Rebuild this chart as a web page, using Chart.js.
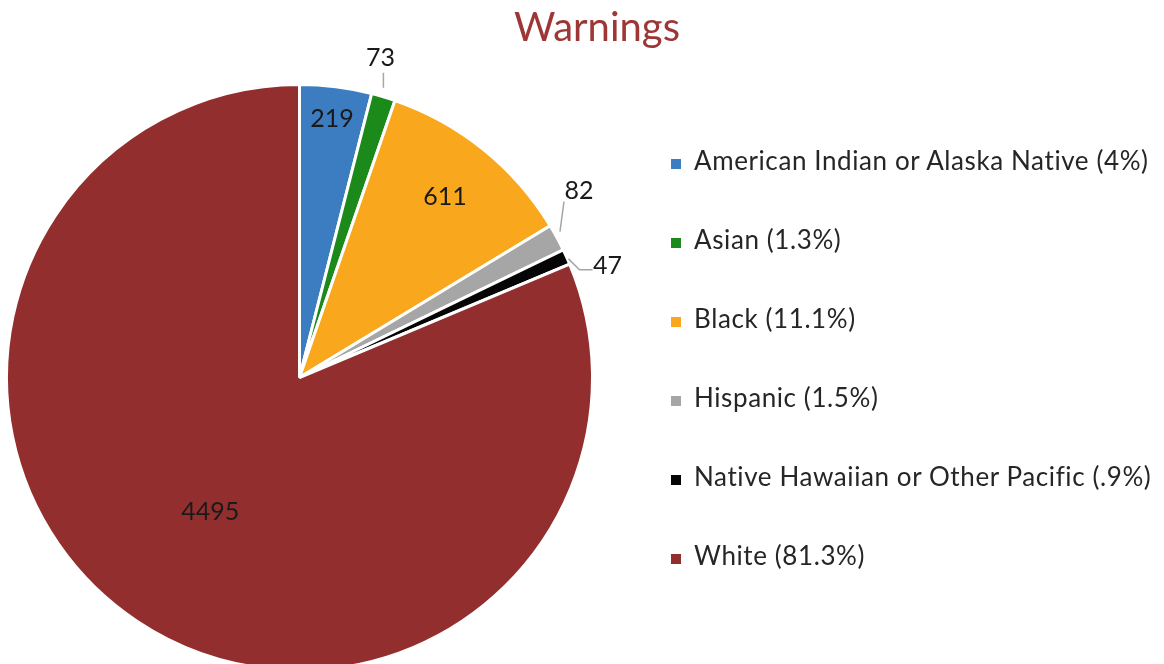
<!DOCTYPE html>
<html>
<head>
<meta charset="utf-8">
<script src="https://cdn.jsdelivr.net/npm/chart.js@4/dist/chart.umd.min.js"></script>
<style>
  html, body { margin: 0; padding: 0; background: #fff; }
  #wrap { position: relative; width: 1164px; height: 664px; overflow: hidden; font-family: Lato, "Open Sans", sans-serif; }
  #pieCanvas { position: absolute; left: 0; top: 0; }
  #title { position: absolute; left: 0; width: 1194px; top: 2px; text-align: center; font-size: 40px; color: #9e3636; }
  #legend { position: absolute; left: 671px; top: 0; }
  .item { position: absolute; white-space: nowrap; font-size: 26px; letter-spacing: 0.6px; color: #262626; height: 30px; line-height: 30px; }
  .item span.box { display: inline-block; width: 10px; height: 10px; margin-right: 13px; vertical-align: 1px; }
</style>
</head>
<body>
<div id="wrap">
  <canvas id="pieCanvas" width="1164" height="700"></canvas>
  <div id="title">Warnings</div>
  <div id="legend"></div>
</div>
<script>
// data
const categories = ['American Indian or Alaska Native', 'Asian', 'Black', 'Hispanic', 'Native Hawaiian or Other Pacific', 'White'];
const legendPct = ['4%', '1.3%', '11.1%', '1.5%', '.9%', '81.3%'];
const warnings = [219, 73, 611, 82, 47, 4495];
const colors = ['#3c7dc2', '#1b8a1b', '#f9a71c', '#a6a6a6', '#050505', '#932e2e'];

// legend (html)
const legendEl = document.getElementById('legend');
categories.forEach((c, i) => {
    const div = document.createElement('div');
    div.className = 'item';
    div.style.top = (145 + i * 79) + 'px';
    div.innerHTML = `<span class="box" style="background:${colors[i]}"></span>${c} (${legendPct[i]})`;
    legendEl.appendChild(div);
});

// where each value label goes: inside at a fraction of radius, or outside with leader line
const labelPlacement = [
    { inside: 0.89 },
    { text: [-3, -39], line: [[0, -9], [0, -24]] },
    { inside: 0.79 },
    { text: [22, -47], line: [[3, -6], [7, -36]] },
    { text: [41, 9], line: [[2, 2], [13, 13], [26, 13]] },
    { inside: 0.55 }
];

const labelPlugin = {
    id: 'valueLabels',
    afterDatasetsDraw(chart) {
        const ctx = chart.ctx;
        const arcs = chart.getDatasetMeta(0).data;
        ctx.save();
        ctx.font = '25px Lato';
        ctx.textAlign = 'center';
        ctx.textBaseline = 'middle';
        arcs.forEach((arc, i) => {
            const p = labelPlacement[i];
            const mid = (arc.startAngle + arc.endAngle) / 2;
            const cos = Math.cos(mid), sin = Math.sin(mid);
            ctx.fillStyle = '#1a1a1a';
            if (p.inside) {
                const r = arc.outerRadius * p.inside;
                ctx.fillText(warnings[i], arc.x + cos * r, arc.y + sin * r);
            } else {
                const ex = arc.x + cos * arc.outerRadius;
                const ey = arc.y + sin * arc.outerRadius;
                ctx.strokeStyle = '#a6a6a6';
                ctx.lineWidth = 1.5;
                ctx.beginPath();
                p.line.forEach((pt, k) => {
                    if (k === 0) ctx.moveTo(ex + pt[0], ey + pt[1]);
                    else ctx.lineTo(ex + pt[0], ey + pt[1]);
                });
                ctx.stroke();
                ctx.fillText(warnings[i], ex + p.text[0], ey + p.text[1]);
            }
        });
        ctx.restore();
    }
};

const ctx = document.getElementById('pieCanvas').getContext('2d');
const pieChart = new Chart(ctx, {
    type: 'pie',
    data: {
        labels: categories,
        datasets: [{
            data: warnings,
            backgroundColor: colors,
            borderColor: '#ffffff',
            borderWidth: 3
        }]
    },
    options: {
        responsive: false,
        animation: false,
        layout: {
            padding: { left: 5, right: 570, top: 83, bottom: 28 }
        },
        plugins: {
            legend: { display: false },
            title: { display: false },
            tooltip: { enabled: false }
        }
    },
    plugins: [labelPlugin]
});
</script>
</body>
</html>
